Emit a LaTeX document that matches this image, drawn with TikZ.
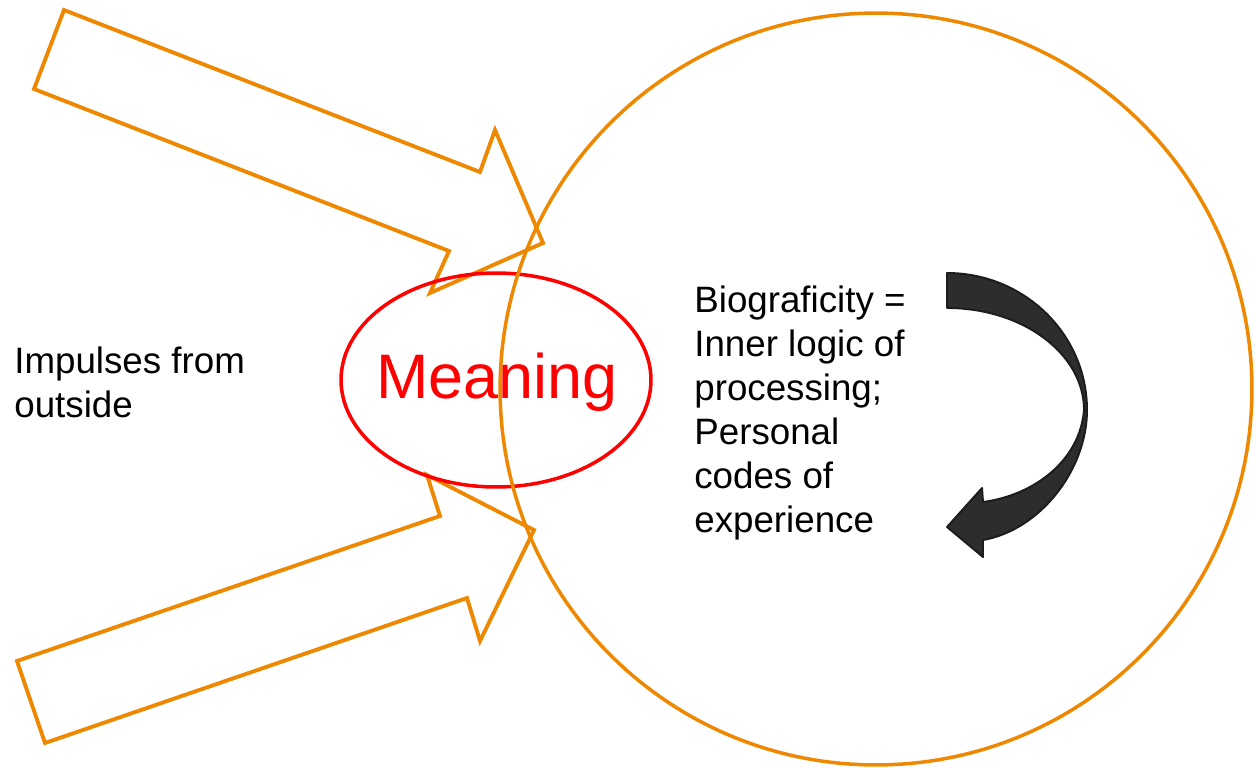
\documentclass[tikz,border=0pt]{standalone}
\usepackage{fontspec}
\setmainfont{Liberation Sans}
\definecolor{iorange}{RGB}{238,136,0}
\definecolor{darkfill}{RGB}{45,45,45}
\definecolor{darkline}{RGB}{28,28,28}

\begin{document}
\begin{tikzpicture}[x=0.02cm, y=-0.02cm,
    blockarr/.style={draw=iorange, line width=2.2pt, line join=miter},
    ring/.style={circle, draw=iorange, line width=2pt,
                 minimum size=15.04cm, inner sep=0pt},
    meaningtxt/.style={inner sep=0pt, text=red, font=\fontsize{35.8}{40}\selectfont},
    oval/.style={draw=red, line width=2pt},
    lbl/.style={anchor=base west, align=left, inner sep=0pt,
                font=\fontsize{20.9}{25}\selectfont},
    turn/.style={fill=darkfill, draw=darkline, line width=1.1pt, line join=round}
  ]
    \useasboundingbox (0,0) rectangle (1256,767);
    % impulses coming in from outside
    \draw[blockarr] (64,10) -- (480,172) -- (495,130) -- (543,243) -- (430,293)
                    -- (449,251) -- (34,89) -- cycle;
    \draw[blockarr] (17,661) -- (440,516) -- (427,475) -- (534,530) -- (480,641)
                    -- (467,598) -- (45,743) -- cycle;
    \node[meaningtxt] (meaning) at (497,382) {Meaning};
    \draw[oval] (496,380) ellipse [x radius=3.1cm, y radius=2.14cm];
    \node[ring] (self) at (876,389) {};
    \node[lbl] (impulses) at (14,417) {Impulses from\\outside};
    \node[lbl] (biograf) at (694,532) {Biograficity =\\Inner logic of\\processing;\\Personal\\codes of\\experience};
    % twisted turn arrow
    \draw[turn] (947,273) .. controls (1024,273) and (1087,334) .. (1087,410)
                -- (1084,410) .. controls (1084,354) and (1023,308) .. (947,308) -- cycle;
    \draw[turn] (1087,410) .. controls (1087,470) and (1040,530) .. (983,540)
                -- (983,557) -- (947,527) -- (982,488) -- (983,502)
                .. controls (1035,495) and (1080,460) .. (1084,410) -- cycle;
  \end{tikzpicture}
\end{document}
